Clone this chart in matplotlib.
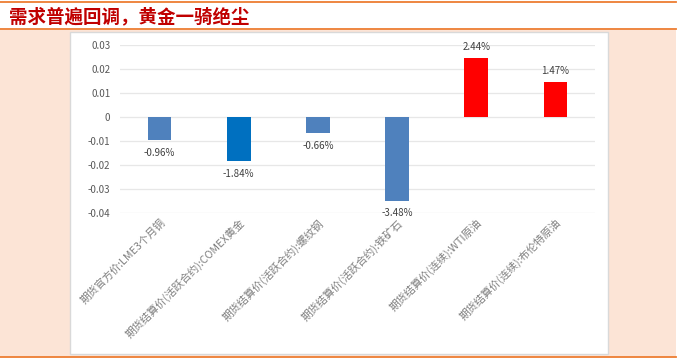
import matplotlib
matplotlib.use("Agg")
import matplotlib.pyplot as plt
from matplotlib.patches import Rectangle
from matplotlib.lines import Line2D

plt.rcParams['font.family'] = ['Noto Sans CJK SC', 'DejaVu Sans']

title = "需求普遍回调，黄金一骑绝尘"
categories = [
    "期货官方价:LME3个月铜",
    "期货结算价(活跃合约):COMEX黄金",
    "期货结算价(活跃合约):螺纹钢",
    "期货结算价(活跃合约):铁矿石",
    "期货结算价(连续):WTI原油",
    "期货结算价(连续):布伦特原油",
]
values = [-0.0096, -0.0184, -0.0066, -0.0348, 0.0244, 0.0147]
labels = ["-0.96%", "-1.84%", "-0.66%", "-3.48%", "2.44%", "1.47%"]
yticks = [0.03, 0.02, 0.01, 0, -0.01, -0.02, -0.03, -0.04]
ytick_labels = ["0.03", "0.02", "0.01", "0", "-0.01", "-0.02", "-0.03", "-0.04"]
colors = ["#4F81BD", "#0070C0", "#4F81BD", "#4F81BD", "#FF0000", "#FF0000"]

W, H = 680, 363
fig = plt.figure(figsize=(W / 100, H / 100), dpi=100)
fig.patch.set_facecolor("white")

def px(x, y):
    return x / W, 1 - y / H

# peach background
x0, y0 = px(0, 357)
fig.patches.append(Rectangle((x0, y0), 676 / W, 327 / H, transform=fig.transFigure,
                             facecolor="#FCE4D6", edgecolor="none", zorder=0))
# white chart panel
x0, y0 = px(70, 354)
fig.patches.append(Rectangle((x0, y0), 538 / W, 322 / H, transform=fig.transFigure,
                             facecolor="white", edgecolor="#D9D9D9", lw=1, zorder=1))
# orange rules
for yy in (2, 29, 357):
    _, fy = px(0, yy)
    fig.lines.append(Line2D([0, 676 / W], [fy, fy], transform=fig.transFigure,
                            color="#ED7D31", lw=1.3, zorder=2))

fig.text(9 / W, 1 - 17 / H, title, color="#C00000", fontsize=13.3, fontweight="bold",
         va="center", ha="left")

ax = fig.add_axes([120 / W, 1 - 213 / H, 475 / W, 168 / H])
ax.set_zorder(5)
ax.set_facecolor("none")
x = list(range(len(categories)))
bars = ax.bar(x, values, width=0.3, color=colors, zorder=3)
ax.set_xlim(-0.5, len(categories) - 0.5)
ax.set_ylim(-0.04, 0.03)
ax.set_yticks(yticks)
ax.set_yticklabels(ytick_labels, color="#595959", fontsize=7)
ax.yaxis.grid(True, color="#E7E7E7", lw=0.9, zorder=0)
ax.set_axisbelow(True)
ax.tick_params(axis="y", length=0, pad=7)
ax.tick_params(axis="x", length=0, pad=3)
for s in ax.spines.values():
    s.set_visible(False)
ax.set_xticks(x)
ax.set_xticklabels(categories, rotation=45, ha="right", rotation_mode="anchor",
                   color="#7F7F7F", fontsize=7.7)

for xi, v, lab in zip(x, values, labels):
    off = 0.0025 if v > 0 else -0.0032
    ax.text(xi, v + off, lab, ha="center", va="bottom" if v > 0 else "top",
            color="#404040", fontsize=7, zorder=4)

fig.savefig("out.png", dpi=100)
